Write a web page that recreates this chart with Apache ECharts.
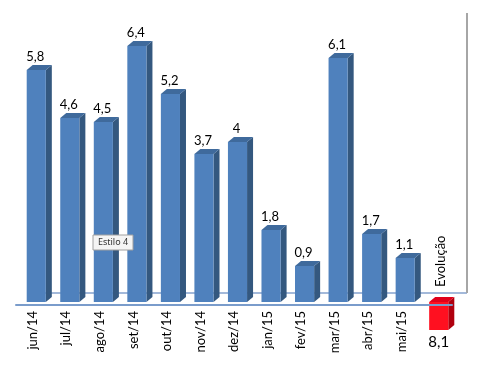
<!DOCTYPE html>
<html>
<head>
<meta charset="utf-8">
<script src="https://cdn.jsdelivr.net/npm/echarts@6/dist/echarts.min.js"></script>
<style>html,body{margin:0;padding:0;background:#fff}#c{width:482px;height:371px}</style>
</head>
<body>
<div id="c"></div>
<script>
// Data
const categories = ['jun/14','jul/14','ago/14','set/14','out/14','nov/14','dez/14','jan/15','fev/15','mar/15','abr/15','mai/15','Evolução'];
const values = [5.8, 4.6, 4.5, 6.4, 5.2, 3.7, 4, 1.8, 0.9, 6.1, 1.7, 1.1];
const evolucaoValue = 8.1;      // shown as label
const evolucaoBar = -0.7;       // drawn height of the red marker bar
const valueLabels = values.map(v => String(v).replace('.', ','));
const evolucaoLabel = String(evolucaoValue).replace('.', ',');

const seriesData = values.map((v, i) => [i, v]).concat([[12, evolucaoBar]]);

const FONT = 'Lato, "Open Sans", sans-serif';

function renderItem(params, api) {
  const idx = params.dataIndex;
  const cat = api.value(0);
  const val = api.value(1);
  const p = api.coord([cat, val]);
  const b = api.coord([cat, 0]);
  const band = api.size([1, 0])[0];
  const w = band * 0.57;
  const dx = 6, dy = 5;      // depth of the bar
  const sx = 3.5, sy = -3;   // placement inside floor depth
  const neg = val < 0;
  const x0 = p[0] - w / 2 + sx;
  const x1 = x0 + w;
  const yT = Math.min(p[1], b[1]) + sy;
  const yB = Math.max(p[1], b[1]) + sy;
  const front = neg ? '#FF1020' : '#4F81BD';
  const side = neg ? '#B0000E' : '#34587F';
  const top = neg ? '#E0001A' : '#3F6A9C';
  const children = [];
  if (idx === 0) {
    // floor back edge and right wall (scene frame), from axis coordinates
    const gl = b[0] - band / 2, gr = gl + band * 13;
    const fy = b[1] - 12;
    children.push({ type: 'line', shape: { x1: gl + 15, y1: fy, x2: gr + 15, y2: fy }, style: { stroke: '#A3B9DA', lineWidth: 2 } });
    children.push({ type: 'line', shape: { x1: gr + 15, y1: api.coord([0, 7])[1] - 12, x2: gr + 15, y2: fy }, style: { stroke: '#A6A6A6', lineWidth: 2 } });
  }
  children.push(
    { type: 'polygon', shape: { points: [[x1, yT], [x1 + dx, yT - dy], [x1 + dx, yB - dy], [x1, yB]] }, style: { fill: side } },
    { type: 'polygon', shape: { points: [[x0, yT], [x0 + dx, yT - dy], [x1 + dx, yT - dy], [x1, yT]] }, style: { fill: top } },
    { type: 'rect', shape: { x: x0, y: yT, width: w, height: yB - yT }, style: { fill: front } }
  );
  const cx = (x0 + x1) / 2;
  if (!neg) {
    children.push({ type: 'text', x: cx - 1, y: yT - dy - 2,
      style: { text: valueLabels[idx], fill: '#000', font: '13px ' + FONT, textAlign: 'center', textVerticalAlign: 'bottom' } });
  } else {
    children.push({ type: 'text', x: cx, y: yB + 5,
      style: { text: evolucaoLabel, fill: '#000', font: '15px ' + FONT, textAlign: 'center', textVerticalAlign: 'top' } });
    children.push({ type: 'text', x: cx + 2, y: b[1] - 18, rotation: Math.PI / 2,
      style: { text: categories[idx], fill: '#000', font: '13px ' + FONT, textAlign: 'left', textVerticalAlign: 'middle' } });
  }
  return { type: 'group', children };
}

const chart = echarts.init(document.getElementById('c'), null, { renderer: 'canvas' });
chart.setOption({
  animation: false,
  backgroundColor: '#fff',
  grid: { left: 16, right: 30, top: 25, bottom: 66, containLabel: false, outerBoundsMode: 'none' },
  xAxis: {
    type: 'category', data: categories, z: 10,
    axisLine: { show: true, onZero: false, lineStyle: { color: '#7A9CCB', width: 2 } },
    axisTick: { show: false },
    axisLabel: { rotate: 90, margin: 6, color: '#000', fontSize: 13, fontFamily: FONT,
      formatter: (v, i) => (i === 12 ? '' : v) },
    splitLine: { show: false }
  },
  yAxis: { type: 'value', min: 0, max: 7, show: false, splitLine: { show: false } },
  series: [{ type: 'custom', renderItem, data: seriesData, z: 2, clip: false }],
  graphic: [
    { type: 'rect', z: 100, zlevel: 1, shape: { x: 93, y: 235, width: 40, height: 15 }, style: { fill: '#F4F4F4', stroke: '#A0A0A0', lineWidth: 1 } },
    { type: 'text', z: 101, zlevel: 1, x: 113, y: 242.5, style: { text: 'Estilo 4', fill: '#333', font: '9px "Noto Sans", sans-serif', textAlign: 'center', textVerticalAlign: 'middle' } }
  ]
});
</script>
</body>
</html>
